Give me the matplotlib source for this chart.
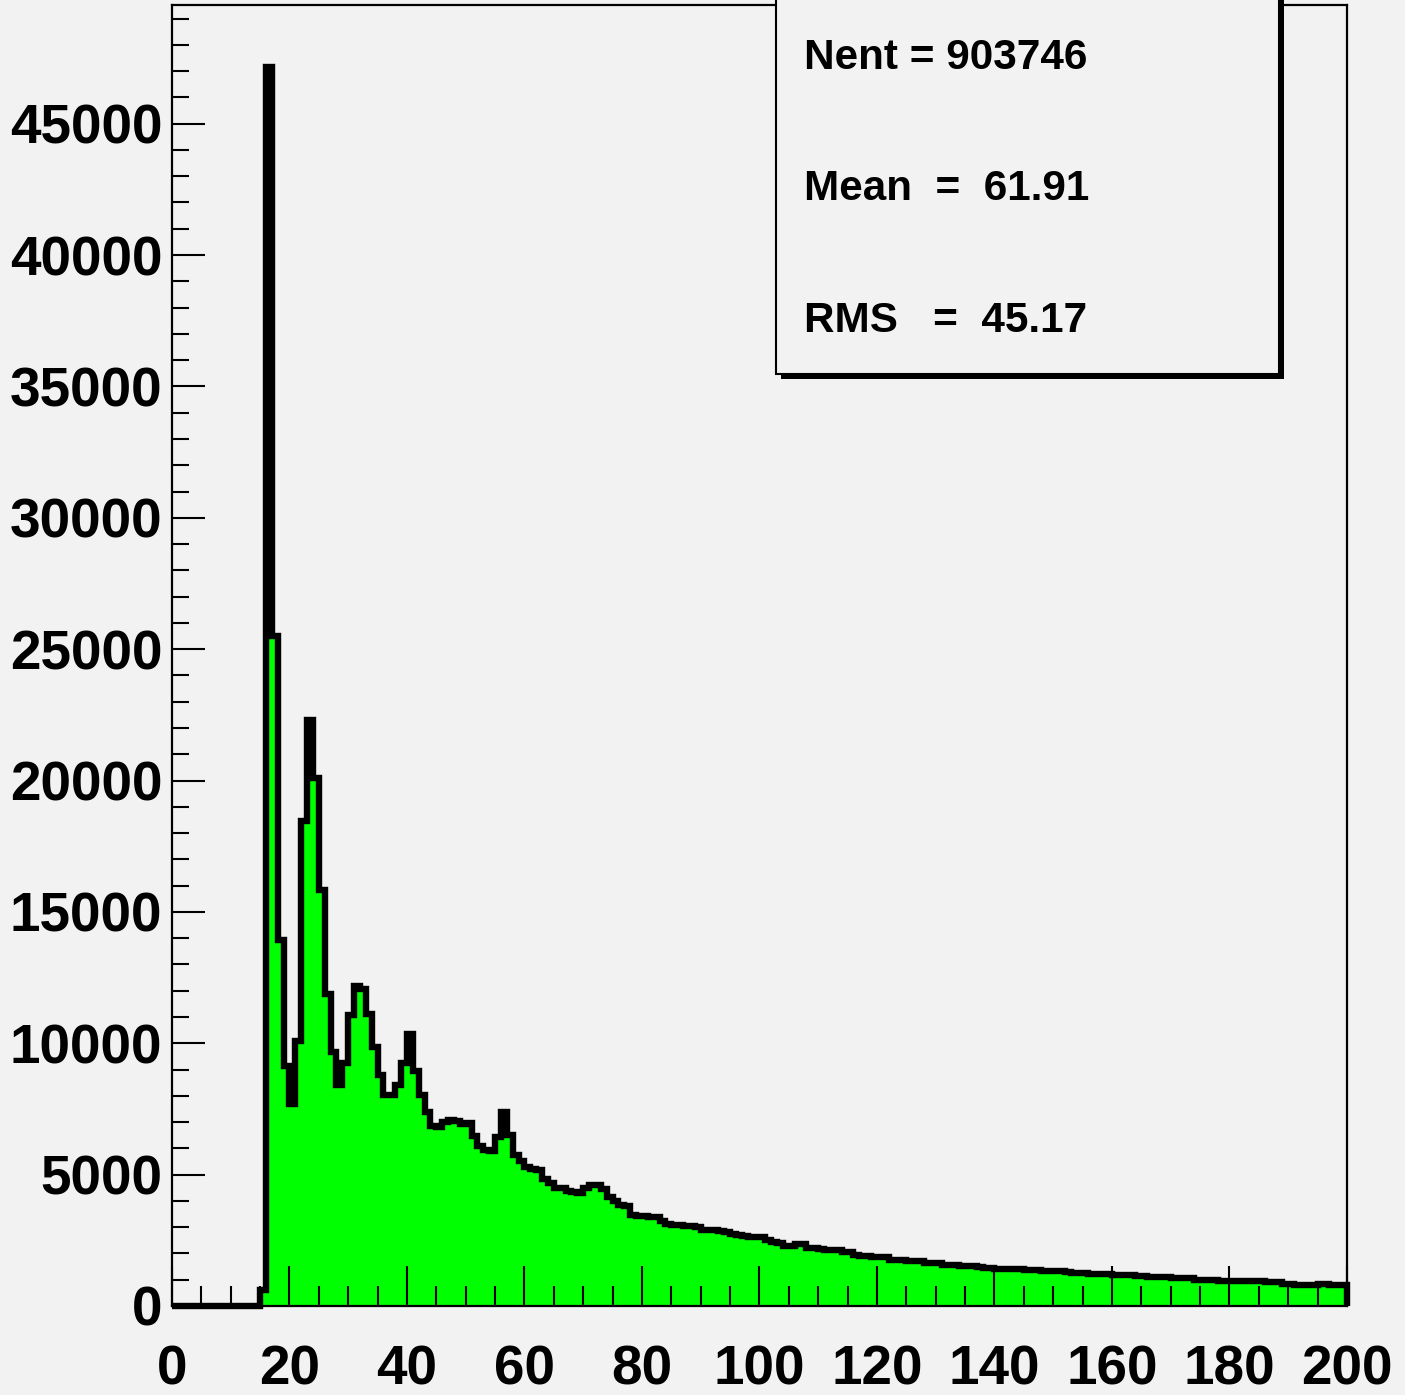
import numpy as np
import matplotlib
matplotlib.use('Agg')
import matplotlib.pyplot as plt
from matplotlib.patches import Rectangle
from matplotlib.ticker import MultipleLocator

plt.rcParams['font.family'] = ['Liberation Sans', 'DejaVu Sans']
plt.rcParams['font.weight'] = 'bold'

# histogram contents, 200 bins of width 1 from 0 to 200
counts = [0] * 15 + [
    620, 47150, 25500, 13930, 9140, 7690, 10100, 18450, 22300, 20100,
    15840, 11880, 9670, 8410, 9250, 11080, 12180, 12050, 11100, 9860,
    8790, 8030, 8030, 8410, 9250, 10350, 8950, 8030, 7390, 6850,
    6820, 7000, 7080, 7040, 6930, 6950, 6470, 6090, 5940, 5900,
    6450, 7385, 6490, 5750, 5520, 5290, 5215, 5180, 4835, 4683,
    4500, 4480, 4380, 4340, 4300, 4490, 4600, 4600, 4440, 4150,
    4000, 3860, 3800, 3470, 3440, 3420, 3400, 3380, 3250, 3120,
    3100, 3080, 3050, 3040, 3020, 2900, 2890, 2880, 2870, 2800,
    2740, 2720, 2680, 2640, 2630, 2620, 2510, 2440, 2400, 2290,
    2290, 2360, 2360, 2210, 2200, 2170, 2130, 2130, 2120, 2060,
    2050, 1950, 1910, 1900, 1870, 1860, 1850, 1750, 1750, 1740,
    1730, 1720, 1700, 1640, 1640, 1630, 1560, 1560, 1550, 1540,
    1520, 1510, 1500, 1450, 1440, 1410, 1410, 1400, 1390, 1390,
    1370, 1360, 1360, 1350, 1330, 1330, 1320, 1310, 1260, 1250,
    1250, 1220, 1220, 1210, 1200, 1180, 1180, 1170, 1170, 1160,
    1150, 1110, 1100, 1100, 1090, 1070, 1060, 1060, 1050, 990,
    990, 980, 980, 970, 950, 950, 940, 950, 950, 960,
    960, 910, 910, 900, 840, 840, 800, 800, 790, 790,
    830, 830, 790, 790, 790,
]
x_min, x_max = 0, 200
x_labels = ['0', '20', '40', '60', '80', '100', '120', '140', '160', '180', '200']
y_labels = ['0', '5000', '10000', '15000', '20000', '25000', '30000', '35000', '40000', '45000']
stats = ['Nent = 903746', 'Mean  =  61.91', 'RMS   =  45.17']

edges = np.linspace(x_min, x_max, len(counts) + 1)

bg = '#f2f2f2'
fig = plt.figure(figsize=(14.05, 13.95), dpi=100, facecolor=bg)
ax = fig.add_axes([0.1224, 0.0638, 0.8363, 0.9323])
ax.set_facecolor(bg)

ax.stairs(counts, edges, fill=True, color='#00ff00', zorder=1)
ax.stairs(counts, edges, color='black', linewidth=4.6, zorder=2, clip_on=False)

ax.set_xlim(x_min, x_max)
ax.set_ylim(0, 49500)

ax.set_xticks([int(s) for s in x_labels])
ax.set_xticklabels(x_labels)
ax.set_yticks([int(s) for s in y_labels])
ax.set_yticklabels(y_labels)
ax.xaxis.set_minor_locator(MultipleLocator(5))
ax.yaxis.set_minor_locator(MultipleLocator(1000))

ax.tick_params(axis='x', which='major', direction='in', length=29, width=1.5,
               labelsize=39.5, pad=28, top=False)
ax.tick_params(axis='x', which='minor', direction='in', length=14.4, width=1.5, top=False)
ax.tick_params(axis='y', which='major', direction='in', length=24, width=1.5,
               labelsize=39.5, pad=7, right=False)
ax.tick_params(axis='y', which='minor', direction='in', length=12, width=1.5, right=False)
for lab in ax.get_xticklabels() + ax.get_yticklabels():
    lab.set_fontweight('bold')

for sp in ax.spines.values():
    sp.set_linewidth(1.6)
    sp.set_color('black')

# stats box with shadow
bx0, bx1 = 776 / 1405, 1279 / 1405
by0 = 1 - 374 / 1395
sh = 5 / 1405
shv = 5 / 1395
fig.add_artist(Rectangle((bx0 + sh, by0 - shv), bx1 - bx0, 0.4, transform=fig.transFigure,
                         facecolor='black', edgecolor='black', linewidth=0, zorder=5))
fig.add_artist(Rectangle((bx0, by0), bx1 - bx0, 0.4, transform=fig.transFigure,
                         facecolor=bg, edgecolor='black', linewidth=1.5, zorder=6))

for txt, ypix in zip(stats, [69, 200, 332]):
    fig.text(804 / 1405, 1 - ypix / 1395, txt, fontsize=30.4, fontweight='bold',
             ha='left', va='baseline', zorder=7)

fig.savefig('out.png', dpi=100, facecolor=bg)
